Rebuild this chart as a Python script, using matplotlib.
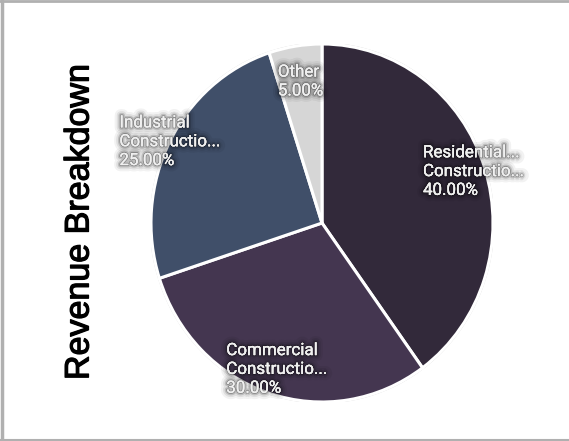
import matplotlib
matplotlib.use("Agg")
import matplotlib.pyplot as plt
import matplotlib.patheffects as pe
import numpy as np

categories = ["Residential Construction", "Commercial Construction", "Industrial Construction", "Other"]
display_labels = ["Residential...\nConstructio...", "Commercial\nConstructio...", "Industrial\nConstructio...", "Other"]
values = [40, 30, 25, 5]
colors = ["#32293a", "#443650", "#404f69", "#d6d6d6"]
label_radius = [0.93, 0.86, 1.00, 0.80]

W, H = 569, 441
fig = plt.figure(figsize=(W / 100, H / 100), dpi=100)
fig.patch.set_facecolor("white")

# pie axes: center ~ (322,223), rx ~170, ry ~179
cx, cy, rx, ry = 322, 223, 171, 179
ax = fig.add_axes([(cx - rx) / W, 1 - (cy + ry) / H, 2 * rx / W, 2 * ry / H])
wedges, _ = ax.pie(values, colors=colors, startangle=90, counterclock=False,
                   wedgeprops=dict(edgecolor="white", linewidth=2.2))
ax.set_aspect("auto")
ax.set_xlim(-1.0, 1.0)
ax.set_ylim(-1.0, 1.0)
# thin grey outline
theta = np.linspace(0, 2 * np.pi, 400)
ax.plot(1.005 * np.cos(theta), 1.005 * np.sin(theta), color="#cfcfcf", lw=0.8, zorder=0)

total = sum(values)
shadow = [pe.withStroke(linewidth=9, foreground=(0, 0, 0, 0.05)),
          pe.withStroke(linewidth=6, foreground=(0, 0, 0, 0.08)),
          pe.withStroke(linewidth=3.5, foreground=(0, 0, 0, 0.15)),
          pe.withStroke(linewidth=1.5, foreground=(0, 0, 0, 0.25)),
          pe.Normal()]
cum = 0
for lab, v, r in zip(display_labels, values, label_radius):
    mid = cum + v / 2
    cum += v
    ang = np.deg2rad(90 - 360 * mid / total)
    txt = f"{lab}\n{v / total * 100:.2f}%"
    ax.text(r * np.cos(ang), r * np.sin(ang), txt, ha="center", va="center",
            multialignment="left", color="#f0f0f0", fontsize=12.2,
            family=["Roboto", "DejaVu Sans"], linespacing=1.32,
            path_effects=shadow, clip_on=False)

fig.text(80 / W, 1 - 222 / H, "Revenue Breakdown", rotation=90, ha="center", va="center",
         fontsize=24.5, family=["Liberation Sans", "DejaVu Sans"], color="black",
         path_effects=[pe.withStroke(linewidth=0.9, foreground="black")])

# grey border (left, top, bottom)
grey = "#b0b0b0"
fig.add_artist(plt.Line2D([1.5 / W, 1.5 / W], [0, 1], color=grey, lw=2.5, transform=fig.transFigure))
fig.add_artist(plt.Line2D([0, 1], [1 - 1 / H, 1 - 1 / H], color=grey, lw=2.0, transform=fig.transFigure))
fig.add_artist(plt.Line2D([0, 1], [1 - 439.5 / H, 1 - 439.5 / H], color=grey, lw=1.5, transform=fig.transFigure))

fig.savefig("out.png", dpi=100, facecolor="white")
